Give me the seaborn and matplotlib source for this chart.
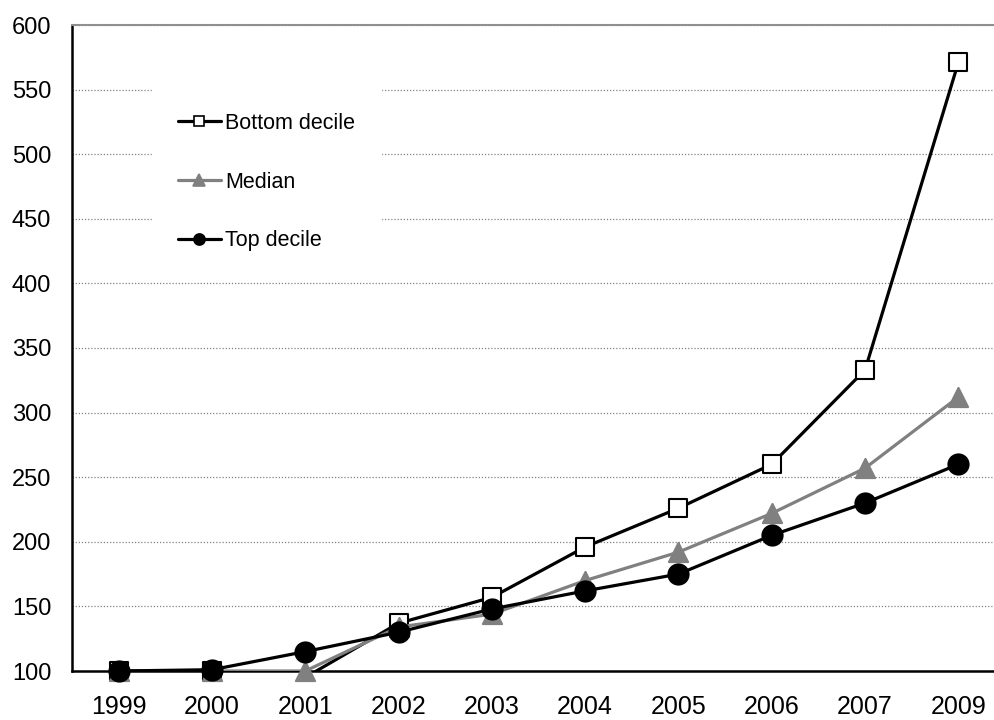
import pandas as pd
import seaborn as sns
import matplotlib.pyplot as plt
from matplotlib.lines import Line2D

# Values (index, base year 1999 = 100)
years = ["1999", "2000", "2001", "2002", "2003", "2004", "2005", "2006", "2007", "2009"]
bottom_decile = [100, 100, 95, 137, 157, 196, 226, 260, 333, 571]
median = [100, 100, 100, 134, 144, 170, 192, 222, 257, 312]
top_decile = [100, 101, 115, 130, 148, 162, 175, 205, 230, 260]

series_names = ["Bottom decile", "Median", "Top decile"]
series_values = [bottom_decile, median, top_decile]

OUTPUT_FILE = "out.png"


def make_chart():
    sns.set_theme(style="white")
    plt.rcParams["font.family"] = ["Liberation Sans", "DejaVu Sans"]
    plt.rcParams["text.color"] = "black"
    plt.rcParams["xtick.color"] = "black"
    plt.rcParams["ytick.color"] = "black"
    plt.rcParams["xtick.labelcolor"] = "black"
    plt.rcParams["ytick.labelcolor"] = "black"

    df = pd.DataFrame({"pos": range(len(years)), "year": years})
    for name, vals in zip(series_names, series_values):
        df[name] = vals

    fig = plt.figure(figsize=(9.94, 7.2), dpi=100)
    ax = fig.add_axes([72 / 994, 49 / 720, 933 / 994, 646 / 720])

    styles = {
        "Bottom decile": dict(color="black", marker="s", face="white", edge="black", s=185, ms=7.5),
        "Median": dict(color="#808080", marker="^", face="#808080", edge="#808080", s=190, ms=8.5),
        "Top decile": dict(color="black", marker="o", face="black", edge="black", s=210, ms=8),
    }

    handles = []
    for i, name in enumerate(series_names):
        st = styles[name]
        sns.lineplot(data=df, x="pos", y=name, ax=ax, color=st["color"],
                     linewidth=2.3, legend=False, zorder=3 + i)
        # markers for points inside the axis range are drawn unclipped, like the original
        visible = df[df[name] >= 100]
        pts = sns.scatterplot(data=visible, x="pos", y=name, ax=ax, marker=st["marker"],
                              s=st["s"], color=st["face"], edgecolor=st["edge"],
                              linewidth=1.5, legend=False, zorder=3.5 + i)
        pts.collections[-1].set_clip_on(False)
        handles.append(Line2D([], [], color=st["color"], lw=2.3, marker=st["marker"],
                              markersize=st["ms"], markerfacecolor=st["face"],
                              markeredgecolor=st["edge"], markeredgewidth=1.2))

    ax.set_xlim(-0.5, len(years) - 0.5)
    ax.set_ylim(100, 600)
    ax.set_yticks(range(100, 601, 50))
    ax.set_xticks([p - 0.5 for p in range(len(years) + 1)])
    ax.set_xticklabels([])
    ax.set_xticks(range(len(years)), minor=True)
    ax.set_xticklabels(years, minor=True, fontsize=18, color="black")
    ax.tick_params(axis="x", which="major", direction="out", length=5, width=1.5, color="black")
    ax.tick_params(axis="x", which="minor", length=0, pad=17)
    ax.tick_params(axis="y", direction="out", length=3, width=1.5, color="black",
                   labelsize=17, labelcolor="black", pad=12)
    ax.set_xlabel("")
    ax.set_ylabel("")

    ax.set_axisbelow(True)
    ax.yaxis.grid(True, linestyle=(0, (1, 1.5)), color="#808080", linewidth=0.9)
    for side in ["left", "bottom"]:
        ax.spines[side].set_color("black")
        ax.spines[side].set_linewidth(1.8)
    ax.spines["top"].set_color("#909090")
    ax.spines["top"].set_linewidth(1.5)
    ax.spines["right"].set_visible(False)

    leg = ax.legend(handles, series_names, loc="upper left",
                    bbox_to_anchor=(152 / 994, 1 - 87 / 720), bbox_transform=fig.transFigure,
                    borderaxespad=0, fontsize=15.5, frameon=True, framealpha=1,
                    facecolor="white", edgecolor="white", fancybox=False,
                    handlelength=2.0, handletextpad=0.2, labelspacing=1.75, borderpad=1.2)
    leg.set_zorder(10)
    for txt in leg.get_texts():
        txt.set_color("black")

    fig.savefig(OUTPUT_FILE, dpi=100)


if __name__ == "__main__":
    make_chart()
